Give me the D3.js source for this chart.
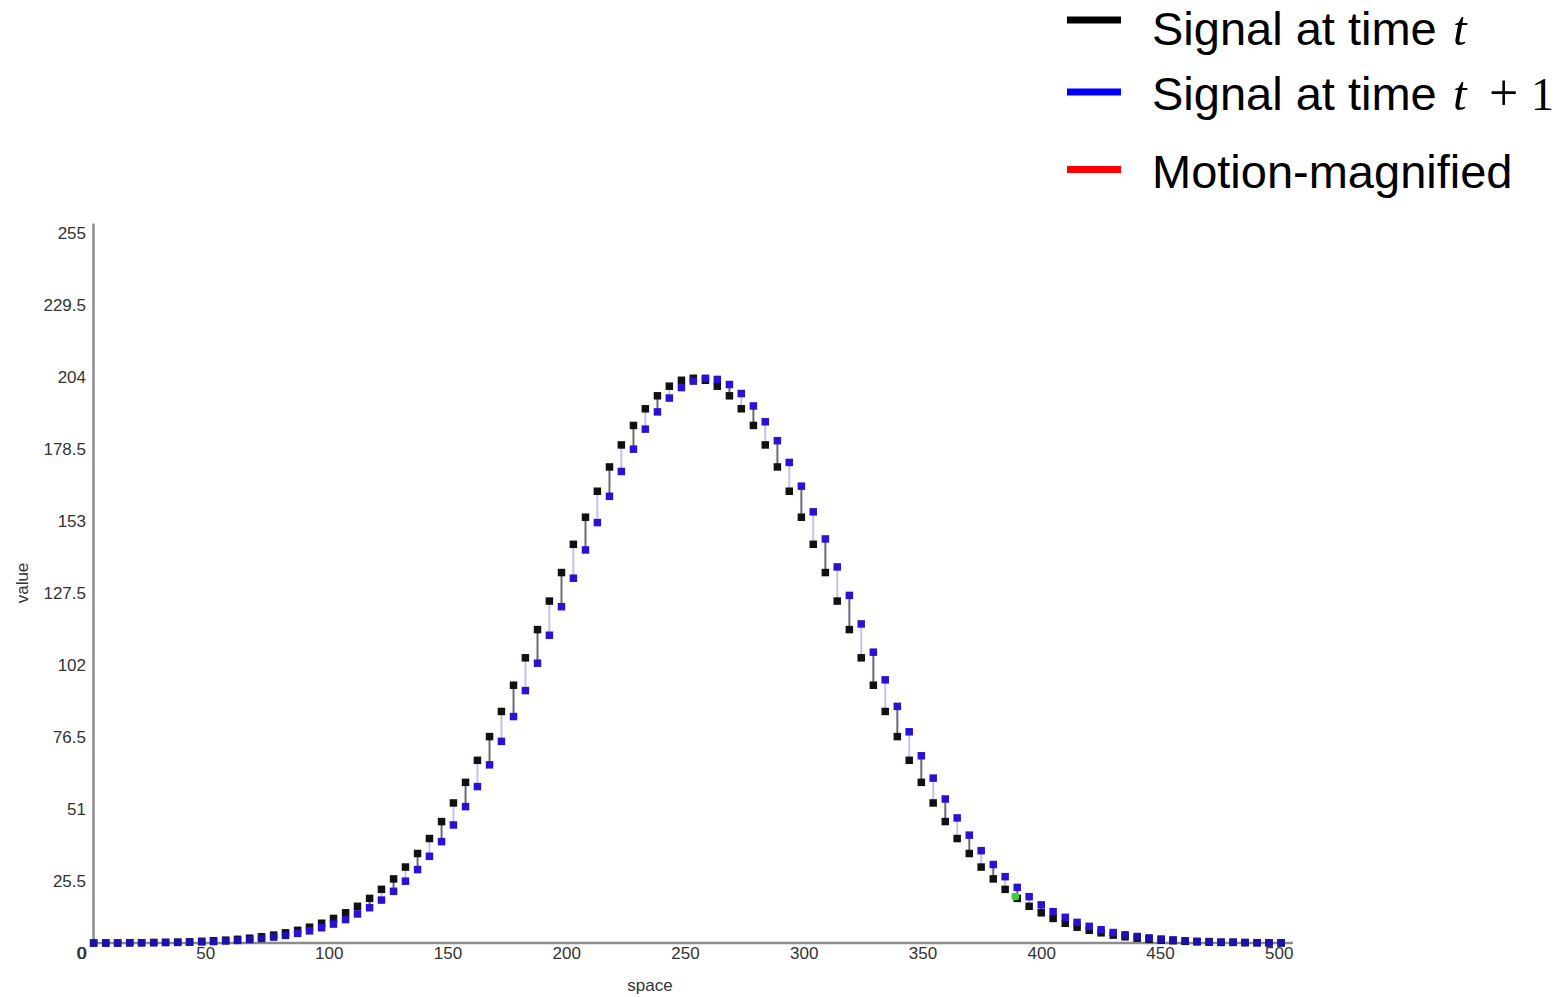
<!DOCTYPE html>
<html>
<head>
<meta charset="utf-8">
<script src="https://cdn.jsdelivr.net/npm/d3@7"></script>
<style>
body{margin:0;background:#fff;}
svg{display:block;}
</style>
</head>
<body>
<svg width="1562" height="997"></svg>
<script>
// sample positions (space)
var space = [7.0,12.1,17.1,22.2,27.2,32.3,37.3,42.4,47.4,52.5,57.5,62.6,67.6,72.7,77.7,82.8,87.8,92.9,97.9,103.0,
	108.0,113.1,118.1,123.2,128.2,133.3,138.3,143.4,148.4,153.5,158.5,163.6,168.6,173.7,178.7,183.8,188.8,193.9,198.9,204.0,
	209.0,214.1,219.1,224.2,229.2,234.3,239.3,244.4,249.4,254.5,259.5,264.6,269.6,274.7,279.7,284.8,289.8,294.9,299.9,305.0,
	310.0,315.1,320.1,325.2,330.2,335.3,340.3,345.4,350.4,355.5,360.5,365.6,370.6,375.7,380.7,385.8,390.8,395.9,400.9,406.0,
	411.0,416.1,421.1,426.2,431.2,436.3,441.3,446.4,451.4,456.5,461.5,466.6,471.6,476.7,481.7,486.8,491.8,496.9,501.9,507.0];
// signal at time t (black)
var signalT = [0.0,0.0,0.0,0.1,0.1,0.2,0.2,0.3,0.4,0.6,0.8,1.0,1.3,1.7,2.2,2.8,3.6,4.5,5.6,7.0,
	8.7,10.7,13.0,15.8,19.0,22.7,26.9,31.7,37.0,43.0,49.6,56.9,64.7,73.1,82.0,91.3,101.0,111.0,121.1,131.2,
	141.2,150.8,160.0,168.6,176.4,183.3,189.2,193.8,197.2,199.3,200.0,199.3,197.2,193.8,189.2,183.3,176.4,168.6,160.0,150.8,
	141.2,131.2,121.1,111.0,101.0,91.3,82.0,73.1,64.7,56.9,49.6,43.0,37.0,31.7,26.9,22.7,19.0,15.8,13.0,10.7,
	8.7,7.0,5.6,4.5,3.6,2.8,2.2,1.7,1.3,1.0,0.8,0.6,0.4,0.3,0.2,0.2,0.1,0.1,0.0,0.0];
// signal at time t+1 (blue)
var signalT1 = [0.0,0.0,0.0,0.1,0.1,0.1,0.2,0.2,0.3,0.4,0.5,0.7,0.9,1.2,1.6,2.1,2.7,3.4,4.3,5.4,
	6.7,8.3,10.3,12.5,15.2,18.3,21.9,26.0,30.7,35.9,41.8,48.3,55.4,63.1,71.4,80.2,89.4,99.1,109.0,119.1,
	129.2,139.2,148.9,158.2,167.0,174.9,182.0,188.1,193.0,196.7,199.0,200.0,199.6,197.8,194.6,190.2,184.6,177.9,170.2,161.8,
	152.7,143.1,133.2,123.1,113.0,103.0,93.2,83.8,74.8,66.3,58.4,51.0,44.3,38.2,32.7,27.8,23.5,19.7,16.4,13.5,
	11.1,9.1,7.3,5.9,4.7,3.7,2.9,2.3,1.8,1.4,1.1,0.8,0.6,0.5,0.3,0.3,0.2,0.1,0.1,0.1];
var xTicks = [0,50,100,150,200,250,300,350,400,450,500];
var yTicks = [0,25.5,51,76.5,102,127.5,153,178.5,204,229.5,255];
var legendLabels = ["Signal at time ","Signal at time ","Motion-magnified"];
var legendMath = ["t","t",""];
var legendExtra = [false,true,false];
var legendColors = ["#000000","#0000ff","#ff0000"];
var highlightIndex = 77;

window.onload = function(){
	var svg = d3.select("svg");
	var sans = "'Liberation Sans', Arial, sans-serif";
	var serif = "'Liberation Serif', 'Times New Roman', serif";
	//scale
	var x = d3.scaleLinear().domain([0,500]).range([77,1264.5]);
	var y = d3.scaleLinear().domain([0,255]).range([943,223]);
	var plotLeft = 93, plotRight = 1293;
	var axisColor = "#8c8c8c";

	//y axis
	var yAxis = svg.append("g")
		.attr("transform","translate(" + plotLeft + ",0)")
		.call(d3.axisLeft(y).tickValues(yTicks).tickSize(0).tickSizeOuter(0).tickPadding(7)
			.tickFormat(function(d){ return String(d); }));
	yAxis.select(".domain").attr("stroke",axisColor).attr("stroke-width",2.5);
	yAxis.selectAll("text")
		.attr("y",10)
		.attr("fill","#333")
		.style("font-family",sans)
		.style("font-size","17px");

	//x axis
	var xAxis = svg.append("g")
		.attr("transform","translate(0,943)")
		.call(d3.axisBottom(x).tickValues(xTicks).tickSize(0).tickSizeOuter(0));
	xAxis.select(".domain").remove();
	xAxis.append("line")
		.attr("x1",plotLeft).attr("x2",plotRight)
		.attr("stroke",axisColor).attr("stroke-width",2.5);
	xAxis.selectAll("text")
		.attr("y",16).attr("dy",0)
		.attr("text-anchor","start")
		.attr("fill","#333")
		.style("font-family",sans)
		.style("font-size","17px");

	//axis titles
	svg.append("text")
		.attr("transform","translate(28,583) rotate(-90)")
		.attr("text-anchor","middle")
		.attr("fill","#333")
		.style("font-family",sans).style("font-size","17px")
		.text("value");
	svg.append("text")
		.attr("x",650).attr("y",991)
		.attr("text-anchor","middle")
		.attr("fill","#333")
		.style("font-family",sans).style("font-size","17px")
		.text("space");

	//data
	var pts = space.map(function(s,i){ return {s:s, a:signalT[i], b:signalT1[i], i:i}; });

	svg.append("g").selectAll("line")
		.data(pts).enter().append("line")
		.attr("x1",function(d){ return x(d.s); })
		.attr("x2",function(d){ return x(d.s); })
		.attr("y1",function(d){ return y(d.a); })
		.attr("y2",function(d){ return y(d.b); })
		.attr("stroke",function(d){ return d.i % 2 ? "#6a6a7c" : "#c2c2ef"; })
		.attr("stroke-width",2);

	var sz = 7.5;
	svg.append("g").selectAll("rect")
		.data(pts).enter().append("rect")
		.attr("x",function(d){ return x(d.s) - sz/2; })
		.attr("y",function(d){ return y(d.a) - sz/2; })
		.attr("width",sz).attr("height",sz)
		.attr("fill","#111");

	svg.append("g").selectAll("rect")
		.data(pts).enter().append("rect")
		.attr("x",function(d){ return x(d.s) - sz/2; })
		.attr("y",function(d){ return y(d.b) - sz/2; })
		.attr("width",sz).attr("height",sz)
		.attr("fill",function(d){ return d.b < 3 ? "#1c12a8" : "#2a12d2"; });

	// highlighted sample
	var h = pts[highlightIndex];
	svg.append("rect")
		.attr("x",x(h.s) - sz/2 - 2).attr("y",y(h.a) - sz/2 - 2)
		.attr("width",sz).attr("height",sz).attr("rx",2.5)
		.attr("fill","#3ccf3c");

	//legend
	var legendRowY = [20,92,169.5];
	var legendBase = [45,110,188];
	legendLabels.forEach(function(lab,i){
		svg.append("line")
			.attr("x1",1067).attr("x2",1121)
			.attr("y1",legendRowY[i]).attr("y2",legendRowY[i])
			.attr("stroke",legendColors[i]).attr("stroke-width",7);
		var t = svg.append("text")
			.attr("x",1152).attr("y",legendBase[i])
			.attr("fill","#000")
			.style("font-family",sans).style("font-size","47px");
		t.append("tspan").text(lab);
		if(legendMath[i]){
			t.append("tspan")
				.attr("x",1453)
				.style("font-family",serif).style("font-style","italic")
				.style("font-size","49px")
				.text(legendMath[i]);
		}
		if(legendExtra[i]){
			t.append("tspan")
				.attr("x",1489)
				.style("font-family",serif)
				.style("font-size","52px")
				.text("+");
			t.append("tspan")
				.attr("x",1531)
				.style("font-family",serif)
				.style("font-size","46px")
				.text("1");
		}
	});
};
</script>
</body>
</html>
